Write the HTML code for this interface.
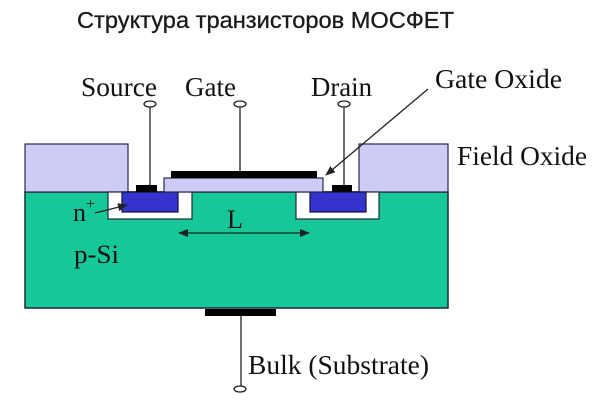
<!DOCTYPE html>
<html><head><meta charset="utf-8"><style>
html,body{margin:0;padding:0;background:#fff;}
svg{display:block;}
</style></head><body>
<svg width="600" height="419" viewBox="0 0 600 419" xmlns="http://www.w3.org/2000/svg">
<defs>
<marker id="ah" markerWidth="10" markerHeight="8" refX="9" refY="4" orient="auto" markerUnits="userSpaceOnUse">
<path d="M0,0 L10,4 L0,8 z" fill="#222"/>
</marker>
<marker id="ahs" markerWidth="10" markerHeight="8" refX="1" refY="4" orient="auto" markerUnits="userSpaceOnUse">
<path d="M10,0 L0,4 L10,8 z" fill="#222"/>
</marker>
</defs>
<rect width="600" height="419" fill="#fff"/>
<text x="77" y="28" font-family="Liberation Sans, DejaVu Sans, sans-serif" font-size="23" fill="#1a1a1a" stroke="#1a1a1a" stroke-width="0.3" textLength="377" lengthAdjust="spacingAndGlyphs">Структура транзисторов МОСФЕТ</text>

<!-- substrate -->
<rect x="25" y="192" width="423" height="116" fill="#16c898" stroke="#1a2a3a" stroke-width="1.5"/>
<!-- field oxides -->
<rect x="25" y="144" width="103" height="48" fill="#ccccf6" stroke="#2a2a4a" stroke-width="1.2"/>
<rect x="359" y="144" width="89" height="48" fill="#ccccf6" stroke="#2a2a4a" stroke-width="1.2"/>
<!-- pockets -->
<rect x="108" y="192" width="84" height="27" fill="#fff" stroke="#1a2a3a" stroke-width="1.2"/>
<rect x="296" y="192" width="83" height="27" fill="#fff" stroke="#1a2a3a" stroke-width="1.2"/>
<!-- n+ -->
<rect x="122" y="192" width="56" height="20" fill="#3434cc" stroke="#111144" stroke-width="1.2"/>
<rect x="310" y="192" width="56" height="20" fill="#3434cc" stroke="#111144" stroke-width="1.2"/>
<!-- gate oxide and gate -->
<rect x="164" y="178" width="159" height="14" fill="#ccccf6" stroke="#2a2a4a" stroke-width="1.2"/>
<rect x="171" y="171" width="146" height="7" fill="#000"/>
<!-- contacts -->
<rect x="136" y="185" width="21" height="7" fill="#000"/>
<rect x="332" y="185" width="20" height="7" fill="#000"/>
<rect x="205" y="309" width="71" height="7" fill="#000"/>

<!-- wires -->
<g stroke="#222" stroke-width="1.3" fill="#fff">
<line x1="150" y1="107" x2="150" y2="185"/>
<line x1="240" y1="107" x2="240" y2="171"/>
<line x1="344" y1="107" x2="344" y2="185"/>
<line x1="241" y1="316" x2="241" y2="386"/>
<ellipse cx="150" cy="104" rx="6" ry="3"/>
<ellipse cx="240" cy="104" rx="6" ry="3"/>
<ellipse cx="344" cy="104" rx="6" ry="3"/>
<ellipse cx="240" cy="389" rx="6" ry="3"/>
</g>
<line x1="428" y1="89" x2="326" y2="175" stroke="#222" stroke-width="1.3" marker-end="url(#ah)"/>
<line x1="95" y1="213" x2="127" y2="205" stroke="#222" stroke-width="1.3" marker-end="url(#ah)"/>
<line x1="179" y1="233" x2="309" y2="233" stroke="#222" stroke-width="1.3" marker-end="url(#ah)" marker-start="url(#ahs)"/>

<g font-family="Liberation Serif, serif" fill="#111">
<text x="81" y="96" font-size="27" textLength="76" lengthAdjust="spacingAndGlyphs">Source</text>
<text x="185" y="96" font-size="27" textLength="51" lengthAdjust="spacingAndGlyphs">Gate</text>
<text x="311" y="96" font-size="27" textLength="61" lengthAdjust="spacingAndGlyphs">Drain</text>
<text x="435" y="88" font-size="27" textLength="127" lengthAdjust="spacingAndGlyphs">Gate Oxide</text>
<text x="457" y="165" font-size="27" textLength="130" lengthAdjust="spacingAndGlyphs">Field Oxide</text>
<text x="73" y="221" font-size="26">n</text>
<text x="86" y="209" font-size="16">+</text>
<text x="227" y="228" font-size="26" textLength="16" lengthAdjust="spacingAndGlyphs">L</text>
<text x="74" y="263" font-size="26" textLength="45" lengthAdjust="spacingAndGlyphs">p-Si</text>
<text x="248" y="374" font-size="27" textLength="181" lengthAdjust="spacingAndGlyphs">Bulk (Substrate)</text>
</g>
</svg>
</body></html>
